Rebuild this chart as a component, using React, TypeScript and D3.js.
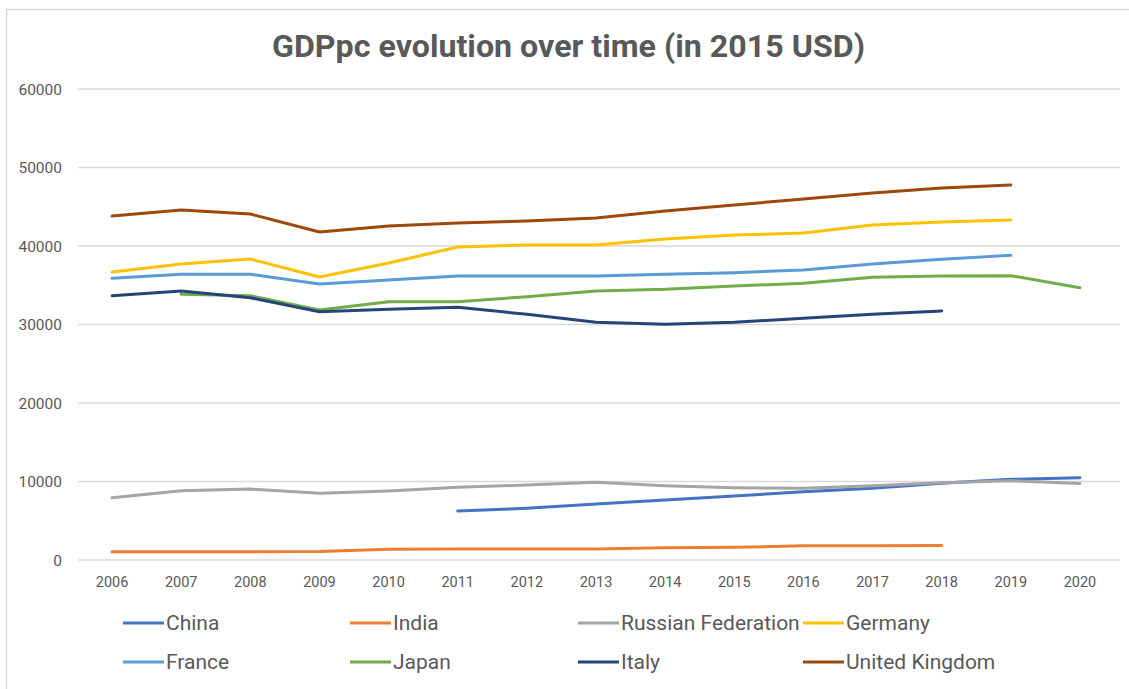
import React from "react";
import * as d3 from "d3";

const years = [2006, 2007, 2008, 2009, 2010, 2011, 2012, 2013, 2014, 2015, 2016, 2017, 2018, 2019, 2020];
const yTicks = [0, 10000, 20000, 30000, 40000, 50000, 60000];

const china = [null, null, null, null, null, 6240, 6590, 7130, 7640, 8150, 8700, 9130, 9770, 10280, 10490];
const india = [1060, 1060, 1060, 1070, 1360, 1400, 1400, 1400, 1570, 1610, 1820, 1820, 1840, null, null];
const russia = [7930, 8830, 9040, 8500, 8790, 9260, 9550, 9900, 9470, 9210, 9130, 9470, 9850, 10100, 9750];
const germany = [36690, 37710, 38340, 36050, 37830, 39870, 40130, 40130, 40890, 41400, 41660, 42680, 43060, 43310, null];
const france = [35880, 36390, 36390, 35160, 35670, 36180, 36180, 36180, 36390, 36600, 36940, 37710, 38300, 38810, null];
const japan = [null, 33850, 33670, 31850, 32910, 32910, 33540, 34270, 34480, 34900, 35250, 36010, 36180, 36220, 34690];
const italy = [33670, 34270, 33410, 31630, 31940, 32190, 31300, 30280, 30020, 30280, 30790, 31300, 31720, null, null];
const uk = [43820, 44590, 44080, 41780, 42550, 42930, 43180, 43570, 44460, 45220, 45990, 46750, 47390, 47770, null];

const seriesNames = ["China", "India", "Russian Federation", "Germany", "France", "Japan", "Italy", "United Kingdom"];
const seriesValues = [china, india, russia, germany, france, japan, italy, uk];
const seriesColors = ["#4472C4", "#ED7D31", "#A5A5A5", "#FFC000", "#5B9BD5", "#70AD47", "#264478", "#9E480E"];
const title = "GDPpc evolution over time (in 2015 USD)";

const W = 1129;
const H = 689;
const font = "Roboto, 'Open Sans', sans-serif";

export default function App() {
  const x = d3
    .scaleBand<number>()
    .domain(years)
    .range([77.5, 1114.5]);
  const y = d3.scaleLinear().domain([0, 60000]).range([560, 89]);
  const cx = (yr: number) => (x(yr) as number) + x.bandwidth() / 2;

  const line = d3
    .line<number | null>()
    .defined((d) => d !== null)
    .x((_, i) => cx(years[i]))
    .y((d) => y(d as number));

  const legendCols = [123, 350, 578, 803];
  const legendRows = [623, 662];

  return (
    <svg
      width={W}
      height={H}
      style={{ position: "absolute", left: 0, top: 0, background: "#fff" }}
      fontFamily={font}
    >
      <rect x={0} y={0} width={W} height={H} fill="#fff" />
      {/* chart border */}
      <rect x={6.5} y={9.5} width={W + 20} height={H + 20} fill="none" stroke="#D9D9D9" strokeWidth={1.5} />

      <text
        x={568.5}
        y={57}
        textAnchor="middle"
        fontSize={31}
        fontWeight="bold"
        fill="#595959"
        textLength={593}
        lengthAdjust="spacingAndGlyphs"
      >
        {title}
      </text>

      {/* gridlines */}
      {yTicks.map((t) => (
        <line key={t} x1={78} x2={1120} y1={y(t)} y2={y(t)} stroke="#D9D9D9" strokeWidth={1.3} />
      ))}
      {/* y tick labels */}
      {yTicks.map((t) => (
        <text key={"yl" + t} x={62} y={y(t) + 5.5} textAnchor="end" fontSize={15.5} fill="#595959">
          {t}
        </text>
      ))}
      {/* x tick labels */}
      {years.map((yr) => (
        <text key={"xl" + yr} x={cx(yr)} y={587} textAnchor="middle" fontSize={14.5} fill="#595959">
          {yr}
        </text>
      ))}

      {/* lines */}
      {seriesValues.map((vals, i) => (
        <path
          key={seriesNames[i]}
          d={line(vals) || ""}
          fill="none"
          stroke={seriesColors[i]}
          strokeWidth={3}
          strokeLinejoin="round"
          strokeLinecap="round"
        />
      ))}

      {/* legend */}
      {seriesNames.map((name, i) => {
        const lx = legendCols[i % 4];
        const ly = legendRows[Math.floor(i / 4)];
        return (
          <g key={"lg" + name}>
            <line x1={lx} x2={lx + 41} y1={ly} y2={ly} stroke={seriesColors[i]} strokeWidth={3} />
            <text x={lx + 43} y={ly + 7} fontSize={21} fill="#595959">
              {name}
            </text>
          </g>
        );
      })}
    </svg>
  );
}
